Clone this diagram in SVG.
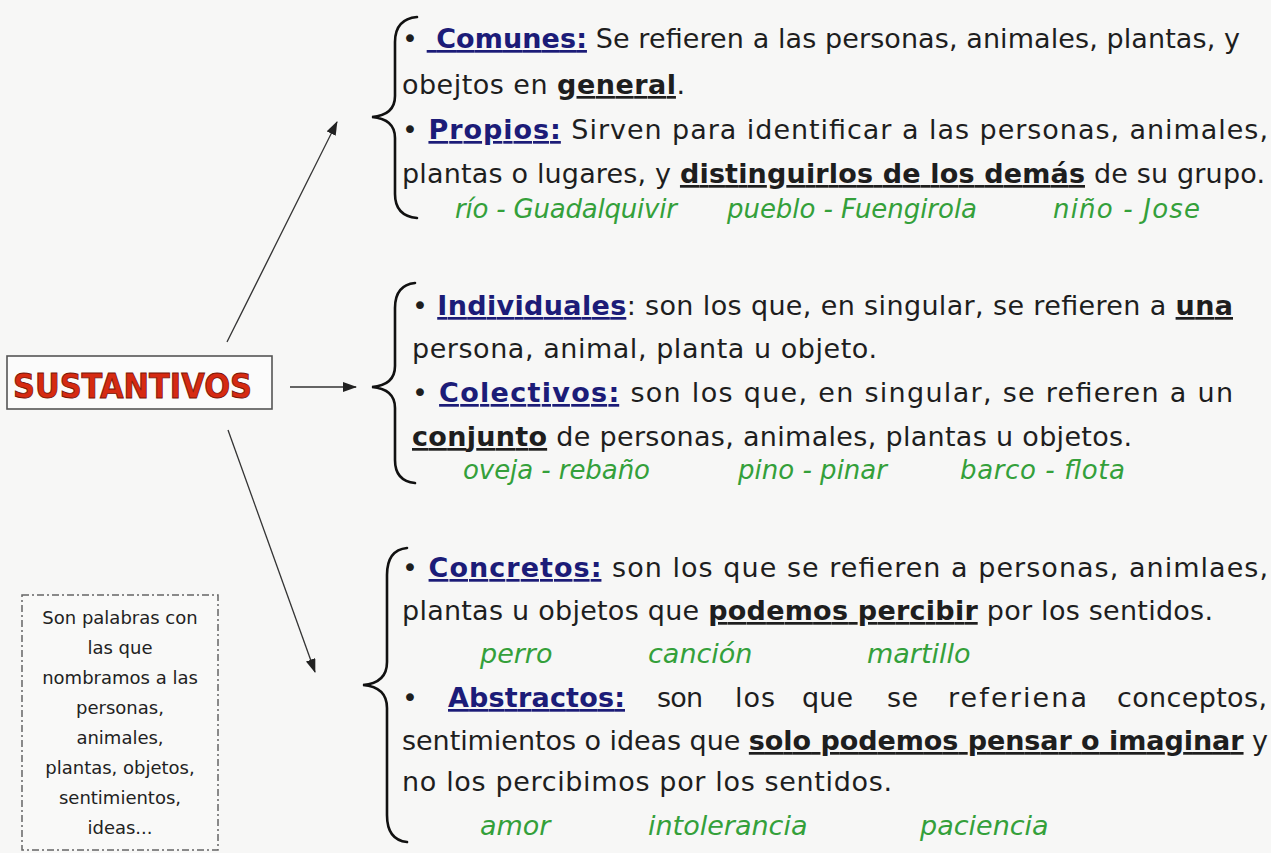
<svg xmlns="http://www.w3.org/2000/svg" width="1271" height="853" viewBox="0 0 1271 853">
<defs>
<marker id="ah" viewBox="0 0 14 10" refX="13" refY="5" markerWidth="14" markerHeight="10" markerUnits="userSpaceOnUse" orient="auto">
<path d="M0,0 L14,5 L0,10 Z" fill="#222"/>
</marker>
<style>
text{font-family:"DejaVu Sans","Liberation Sans",sans-serif;fill:#1e1e1e}
.t{font-size:27px}
.h{fill:#1c1c78;font-weight:bold;text-decoration:underline}
.b{font-weight:bold;text-decoration:underline}
.g{font-size:26px;font-style:italic;fill:#34a03a}
.g2{font-size:27px;font-style:italic;fill:#34a03a}
.brace{fill:none;stroke:#111;stroke-width:2.6;stroke-linecap:round}
.conn{stroke:#333;stroke-width:1.3;fill:none}
.note{font-size:18px;text-anchor:middle;fill:#222}
</style>
</defs>
<rect x="0" y="0" width="1271" height="853" fill="#f7f7f6"/>

<g id="connectors">
<line class="conn" x1="227" y1="342" x2="337" y2="122" marker-end="url(#ah)"/>
<line class="conn" x1="290" y1="387" x2="356" y2="387" marker-end="url(#ah)"/>
<line class="conn" x1="228" y1="430" x2="315" y2="672" marker-end="url(#ah)"/>
</g>

<g id="sustantivos">
<rect x="7" y="356" width="265" height="53" fill="#fbfbfb" stroke="#555" stroke-width="1.6"/>
<text x="13" y="398" font-size="33" font-weight="bold" textLength="239" lengthAdjust="spacingAndGlyphs" style="fill:#d62a12;stroke:#7a1405;stroke-width:0.9">SUSTANTIVOS</text>
</g>

<g id="definicion">
<rect x="22" y="595" width="196" height="255" fill="#f9f9f8" stroke="#666" stroke-width="1.5" stroke-dasharray="7,3,2,3"/>
<text class="note" x="120" y="624">Son palabras con</text>
<text class="note" x="120" y="654">las que</text>
<text class="note" x="120" y="684">nombramos a las</text>
<text class="note" x="120" y="714">personas,</text>
<text class="note" x="120" y="744">animales,</text>
<text class="note" x="120" y="774">plantas, objetos,</text>
<text class="note" x="120" y="804">sentimientos,</text>
<text class="note" x="120" y="834">ideas...</text>
</g>

<g id="comunes-propios">
<path class="brace" d="M417,17 Q395,19 395,42 L395,96 Q395,115 372,117 Q395,119 395,138 L395,194 Q395,216 417,218"/>
<text class="t" x="402" y="48" textLength="838" lengthAdjust="spacing">• <tspan class="h">&#160;Comunes:</tspan> Se refieren a las personas, animales, plantas, y</text>
<text class="t" x="402" y="94" textLength="283" lengthAdjust="spacing">obejtos en <tspan class="b">general</tspan>.</text>
<text class="t" x="402" y="139" textLength="866" lengthAdjust="spacing">• <tspan class="h">Propios:</tspan> Sirven para identificar a las personas, animales,</text>
<text class="t" x="402" y="183" textLength="863" lengthAdjust="spacing">plantas o lugares, y <tspan class="b">distinguirlos de los demás</tspan> de su grupo.</text>
<text class="g" x="455" y="218" textLength="222" lengthAdjust="spacing">río - Guadalquivir</text>
<text class="g" x="727" y="218" textLength="250" lengthAdjust="spacing">pueblo - Fuengirola</text>
<text class="g" x="1053" y="218" textLength="147" lengthAdjust="spacing">niño - Jose</text>
</g>

<g id="individuales-colectivos">
<path class="brace" d="M415,283 Q395,285 395,308 L395,366 Q395,385 372,387 Q395,389 395,408 L395,460 Q395,481 415,483"/>
<text class="t" x="412" y="315" textLength="821" lengthAdjust="spacing">• <tspan class="h">Individuales</tspan>: son los que, en singular, se refieren a <tspan class="b">una</tspan></text>
<text class="t" x="412" y="358" textLength="465" lengthAdjust="spacing">persona, animal, planta u objeto.</text>
<text class="t" x="412" y="402" textLength="821" lengthAdjust="spacing">• <tspan class="h">Colectivos:</tspan> son los que, en singular, se refieren a un</text>
<text class="t" x="412" y="446" textLength="720" lengthAdjust="spacing"><tspan class="b">conjunto</tspan> de personas, animales, plantas u objetos.</text>
<text class="g" x="463" y="479" textLength="187" lengthAdjust="spacing">oveja - rebaño</text>
<text class="g" x="738" y="479" textLength="149" lengthAdjust="spacing">pino - pinar</text>
<text class="g" x="960" y="479" textLength="165" lengthAdjust="spacing">barco - flota</text>
</g>

<g id="concretos-abstractos">
<path class="brace" d="M407,548 Q387,550 387,575 L387,662 Q387,683 363,685 Q387,687 387,708 L387,815 Q387,840 407,842"/>
<text class="t" x="402" y="577" textLength="866" lengthAdjust="spacing">• <tspan class="h">Concretos:</tspan> son los que se refieren a personas, animlaes,</text>
<text class="t" x="402" y="620" textLength="811" lengthAdjust="spacing">plantas u objetos que <tspan class="b">podemos percibir</tspan> por los sentidos.</text>
<text class="g2" x="480" y="663">perro</text>
<text class="g2" x="648" y="663">canción</text>
<text class="g2" x="867" y="663">martillo</text>
<text class="t" x="402" y="707">•</text>
<text class="t" x="448" y="707" textLength="177" lengthAdjust="spacing"><tspan class="h">Abstractos:</tspan></text>
<text class="t" x="657" y="707" textLength="46" lengthAdjust="spacing">son</text>
<text class="t" x="735" y="707" textLength="40" lengthAdjust="spacing">los</text>
<text class="t" x="802" y="707" textLength="51" lengthAdjust="spacing">que</text>
<text class="t" x="887" y="707" textLength="31" lengthAdjust="spacing">se</text>
<text class="t" x="948" y="707" textLength="139" lengthAdjust="spacing">referiena</text>
<text class="t" x="1117" y="707" textLength="150" lengthAdjust="spacing">conceptos,</text>
<text class="t" x="402" y="750" textLength="866" lengthAdjust="spacing">sentimientos o ideas que <tspan class="b">solo podemos pensar o imaginar</tspan> y</text>
<text class="t" x="402" y="791" textLength="490" lengthAdjust="spacing">no los percibimos por los sentidos.</text>
<text class="g2" x="480" y="835">amor</text>
<text class="g2" x="648" y="835">intolerancia</text>
<text class="g2" x="920" y="835">paciencia</text>
</g>
</svg>
